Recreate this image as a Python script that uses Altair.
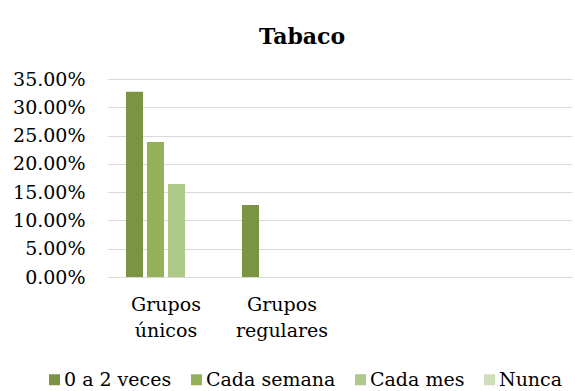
import altair as alt
import pandas as pd

categories = ["Grupos únicos", "Grupos regulares", " ", "  "]
series = ["0 a 2 veces", "Cada semana", "Cada mes", "Nunca"]
colors = ["#7a9444", "#94b058", "#aec887", "#cfdeb9"]
vals_0a2 = [0.3275, 0.1271, 0, 0]
vals_semana = [0.2388, 0, 0, 0]
vals_mes = [0.1643, 0, 0, 0]
vals_nunca = [0, 0, 0, 0]

rows = []
for s, vals in zip(series, [vals_0a2, vals_semana, vals_mes, vals_nunca]):
    for c, v in zip(categories, vals):
        if v > 0:
            rows.append({"categoria": c, "serie": s, "valor": v})
df = pd.DataFrame(rows)

FONT = "DejaVu Serif"
FS = 19

chart = alt.Chart(df).mark_bar().encode(
    x=alt.X(
        "categoria:N",
        scale=alt.Scale(domain=categories, paddingInner=0.31, paddingOuter=0.155),
        axis=alt.Axis(
            title=None, labelAngle=0, labelExpr="split(datum.label, ' ')",
            labelFont=FONT, labelFontSize=FS, labelColor="black", labelPadding=18,
            labelLineHeight=26, ticks=False, domainColor="#d9d9d9", grid=False,
        ),
    ),
    xOffset=alt.XOffset("serie:N", scale=alt.Scale(domain=series, paddingInner=0.19)),
    y=alt.Y(
        "valor:Q",
        scale=alt.Scale(domain=[0, 0.35], nice=False),
        axis=alt.Axis(
            title=None, format=".2%", values=[0, 0.05, 0.10, 0.15, 0.20, 0.25, 0.30, 0.35],
            grid=True, gridColor="#d9d9d9", gridWidth=1, domain=False, ticks=False,
            labelFont=FONT, labelFontSize=FS, labelColor="black", labelPadding=23,
        ),
    ),
    color=alt.Color(
        "serie:N",
        scale=alt.Scale(domain=series, range=colors),
        legend=alt.Legend(
            title=None, orient="none", legendX=-63, legendY=291, direction="horizontal",
            symbolType="square", symbolSize=121, symbolStrokeWidth=0,
            labelFont=FONT, labelFontSize=FS, labelColor="black", labelOffset=0,
            columnPadding=15, labelLimit=0,
        ),
    ),
).properties(
    width=464,
    height=198,
    title=alt.TitleParams(
        "Tabaco", font=FONT, fontSize=22, fontWeight="bold", color="black",
        dx=-38, offset=4, baseline="alphabetic",
    ),
    autosize=alt.AutoSizeParams(type="none"),
    padding={"left": 108, "top": 79, "right": 3, "bottom": 114},
).configure_view(stroke=None)

chart.save("out.html", embed_options={"renderer": "svg", "actions": False})
